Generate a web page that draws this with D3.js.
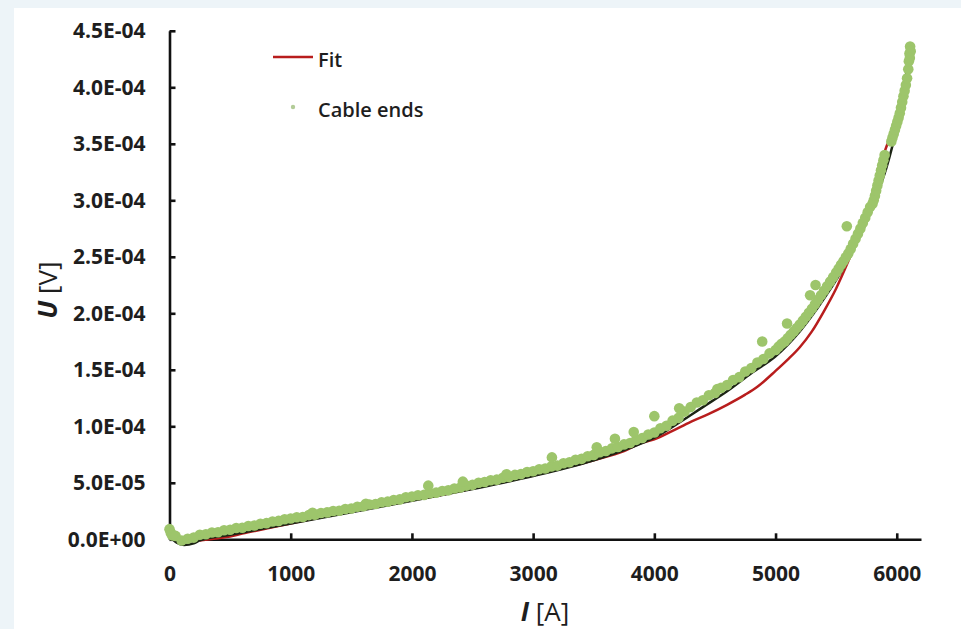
<!DOCTYPE html>
<html>
<head>
<meta charset="utf-8">
<script src="https://cdn.jsdelivr.net/npm/d3@7/dist/d3.min.js"></script>
<style>
  html, body { margin: 0; padding: 0; background: #fff; }
  svg { display: block; font-family: "Open Sans", sans-serif; }
</style>
</head>
<body>
<div id="chart"></div>
<script>
// U-I curve of the cable ends with the fitted curve
// voltages are written in units of 1e-5 V

const xTicks = [0, 1000, 2000, 3000, 4000, 5000, 6000];
const yTicks = [0, 5e-5, 1e-4, 1.5e-4, 2e-4, 2.5e-4, 3e-4, 3.5e-4, 4e-4, 4.5e-4];
const yTickLabels = ['0.0E+00', '5.0E-05', '1.0E-04', '1.5E-04', '2.0E-04',
  '2.5E-04', '3.0E-04', '3.5E-04', '4.0E-04', '4.5E-04'];

// measured points, [I in A, U in 1e-5 V]
const cableEnds = [
  [0, 0.9], [10, 0.6], [20, 0.35], [50, 0.3], [100, -0.1], [150, 0.05], [200, 0.15], [250, 0.4],
  [300, 0.45], [350, 0.6], [400, 0.62], [450, 0.8], [500, 0.85], [550, 1.0], [600, 1.02],
  [650, 1.18], [700, 1.22], [750, 1.38], [800, 1.43], [850, 1.58], [900, 1.63], [950, 1.78],
  [1000, 1.84], [1050, 1.95], [1100, 1.98], [1150, 2.14], [1200, 2.18], [1250, 2.33],
  [1300, 2.38], [1350, 2.5], [1400, 2.53], [1450, 2.68], [1500, 2.73], [1550, 2.88],
  [1600, 2.93], [1650, 3.08], [1700, 3.12], [1750, 3.28], [1800, 3.33], [1850, 3.48],
  [1900, 3.53], [1950, 3.72], [2000, 3.78], [2050, 3.9], [2100, 3.93], [2150, 4.08],
  [2200, 4.13], [2250, 4.28], [2300, 4.33], [2350, 4.5], [2400, 4.58], [2450, 4.75],
  [2500, 4.82], [2550, 5.0], [2600, 5.07], [2650, 5.23], [2700, 5.28], [2750, 5.45],
  [2800, 5.52], [2850, 5.7], [2900, 5.77], [2950, 5.95], [3000, 6.02], [3050, 6.2],
  [3100, 6.27], [3150, 6.45], [3200, 6.52], [3250, 6.73], [3300, 6.82], [3350, 7.03],
  [3400, 7.12], [3450, 7.35], [3500, 7.47], [3550, 7.7], [3600, 7.82], [3650, 8.05],
  [3700, 8.17], [3750, 8.4], [3800, 8.52], [3850, 8.8], [3900, 8.97], [3950, 9.28],
  [4000, 9.45], [4050, 9.83], [4100, 10.05], [4150, 10.5], [4200, 10.75], [4250, 11.3],
  [4300, 11.7], [4350, 12.1], [4400, 12.3], [4450, 12.75], [4500, 12.95], [4550, 13.4],
  [4600, 13.65], [4650, 14.1], [4700, 14.35], [4750, 14.85], [4800, 15.15], [4850, 15.65],
  [4900, 15.95], [4950, 16.45], [5000, 16.75], [5025, 17.05], [5050, 17.3], [5075, 17.5],
  [5100, 17.8], [5125, 18.1], [5150, 18.4], [5175, 18.7], [5200, 19.0], [5225, 19.35],
  [5250, 19.7], [5275, 20.05], [5300, 20.4], [5325, 20.8], [5350, 21.2], [5375, 21.6],
  [5400, 22.0], [5425, 22.4], [5450, 22.8], [5475, 23.2], [5500, 23.6], [5520, 23.95],
  [5540, 24.3], [5560, 24.6], [5580, 24.95], [5600, 25.3], [5620, 25.7], [5640, 26.15],
  [5660, 26.6], [5680, 27.05], [5700, 27.5], [5720, 28.0], [5740, 28.45], [5760, 28.95],
  [5780, 29.4], [5800, 29.7], [5810, 30.0], [5820, 30.4], [5830, 30.85], [5840, 31.3],
  [5850, 31.75], [5860, 32.2], [5870, 32.65], [5880, 33.1], [5890, 33.55], [5900, 34.0],
  [5955, 35.2], [5965, 35.55], [5975, 35.9], [5985, 36.25], [5995, 36.6], [6005, 36.95],
  [6015, 37.3], [6025, 37.7], [6035, 38.2], [6045, 38.7], [6055, 39.2], [6065, 39.7],
  [6075, 40.2], [6085, 40.8], [6095, 41.6], [6100, 42.3], [6105, 43.0], [6110, 43.6],
  [6115, 43.2], [6108, 42.6]
];

// points lying a little off the band
const outliers = [
  [1180, 2.35], [1620, 3.15], [2135, 4.75], [2420, 5.1], [2780, 5.75], [3155, 7.25],
  [3525, 8.15], [3675, 8.9], [3830, 9.5], [4000, 10.9], [4205, 11.6], [4520, 13.3],
  [4890, 17.5], [5095, 19.1], [5285, 21.6], [5330, 22.5], [5588, 27.7]
];

// dark line under the points
const darkLine = [
  [0, 0.3], [60, -0.3], [120, -0.5], [200, -0.35], [250, -0.1], [500, 0.4], [750, 0.9],
  [1000, 1.4], [1500, 2.4], [2000, 3.4], [2500, 4.45], [3000, 5.6], [3500, 7.0], [3800, 8.1],
  [4000, 9.0], [4200, 10.3], [4400, 11.7], [4600, 13.1], [4800, 14.7], [5000, 16.2],
  [5200, 18.4], [5400, 21.3], [5600, 24.8], [5800, 29.4], [6000, 36.5], [6100, 42.5]
];

// fit curve
const fit = [
  [250, -0.1], [400, 0.1], [500, 0.25], [600, 0.5], [800, 0.95], [1000, 1.4], [1250, 1.95],
  [1500, 2.45], [1750, 2.95], [2000, 3.45], [2250, 3.95], [2500, 4.5], [2750, 5.05],
  [3000, 5.65], [3250, 6.3], [3500, 7.0], [3750, 7.8], [3900, 8.55], [4000, 8.85],
  [4150, 9.6], [4300, 10.4], [4450, 11.1], [4600, 11.9], [4750, 12.8], [4850, 13.5],
  [5000, 14.9], [5100, 15.9], [5200, 17.0], [5300, 18.4], [5400, 20.2], [5500, 22.2],
  [5600, 24.6], [5700, 27.2], [5800, 30.0], [5900, 34.3], [6000, 37.0], [6100, 42.5]
];

const width = 961;
const height = 629;
const unit = 1e-5;

const svg = d3.select('#chart')
  .append('svg')
  .attr('width', width)
  .attr('height', height);

// pale frame on the left and top
svg.append('rect')
  .attr('width', width)
  .attr('height', height)
  .attr('fill', '#edf4f8');
svg.append('rect')
  .attr('x', 14)
  .attr('y', 8)
  .attr('width', width - 14)
  .attr('height', height - 8)
  .attr('fill', '#fff');

const x = d3.scaleLinear().domain([0, 6200]).range([169.5, 921]);
const y = d3.scaleLinear().domain([0, 4.5e-4]).range([539.3, 30.8]);

const xAxis = d3.axisBottom(x)
  .tickValues(xTicks)
  .tickFormat(d3.format('d'))
  .tickSizeInner(-6)
  .tickSizeOuter(0)
  .tickPadding(27);

const yAxis = d3.axisLeft(y)
  .tickValues(yTicks)
  .tickFormat((d, i) => yTickLabels[i])
  .tickSizeInner(-6)
  .tickSizeOuter(0)
  .tickPadding(24);

const gx = svg.append('g')
  .attr('transform', `translate(0,${y(0)})`)
  .call(xAxis);
const gy = svg.append('g')
  .attr('transform', `translate(${x(0)},0)`)
  .call(yAxis);

[gx, gy].forEach(g => {
  g.select('.domain').attr('stroke', '#111').attr('stroke-width', 2.6);
  g.selectAll('.tick line').attr('stroke', '#111').attr('stroke-width', 2.6);
  g.selectAll('.tick text')
    .attr('fill', '#1e1e1e')
    .style('font-family', '"Open Sans", sans-serif')
    .style('font-size', '21px')
    .style('font-weight', 700);
});

const line = d3.line()
  .x(d => x(d[0]))
  .y(d => y(d[1] * unit))
  .curve(d3.curveMonotoneX);

svg.append('path')
  .datum(fit)
  .attr('fill', 'none')
  .attr('stroke', '#b81d1d')
  .attr('stroke-width', 2.5)
  .attr('d', line);

svg.append('path')
  .datum(darkLine)
  .attr('fill', 'none')
  .attr('stroke', '#1c2414')
  .attr('stroke-width', 2.5)
  .attr('d', line);

svg.append('g')
  .selectAll('circle')
  .data(cableEnds.concat(outliers))
  .enter().append('circle')
  .attr('cx', d => x(d[0]))
  .attr('cy', d => y(d[1] * unit))
  .attr('r', 5.3)
  .attr('fill', '#9dc56b');

// axis titles
const xTitle = svg.append('text')
  .attr('x', 545)
  .attr('y', 621)
  .attr('text-anchor', 'middle')
  .style('font-size', '26px')
  .attr('fill', '#1e1e1e');
xTitle.append('tspan').text('I').style('font-style', 'italic').style('font-weight', 700);
xTitle.append('tspan').text(' [A]');

const yTitle = svg.append('text')
  .attr('transform', 'translate(57,290) rotate(-90)')
  .attr('text-anchor', 'middle')
  .style('font-size', '26px')
  .attr('fill', '#1e1e1e');
yTitle.append('tspan').text('U').style('font-style', 'italic').style('font-weight', 700);
yTitle.append('tspan').text(' [V]');

// legend
const legend = svg.append('g');
legend.append('line')
  .attr('x1', 273).attr('x2', 313)
  .attr('y1', 57).attr('y2', 57)
  .attr('stroke', '#b81d1d')
  .attr('stroke-width', 2.5);
legend.append('circle')
  .attr('cx', 293).attr('cy', 107)
  .attr('r', 2.2)
  .attr('fill', '#b3cc98');
legend.selectAll('text')
  .data(['Fit', 'Cable ends'])
  .enter().append('text')
  .attr('x', 318)
  .attr('y', (d, i) => 67 + i * 50)
  .attr('fill', '#1e1e1e')
  .style('font-size', '20px')
  .style('font-weight', 600)
  .text(d => d);
</script>
</body>
</html>
